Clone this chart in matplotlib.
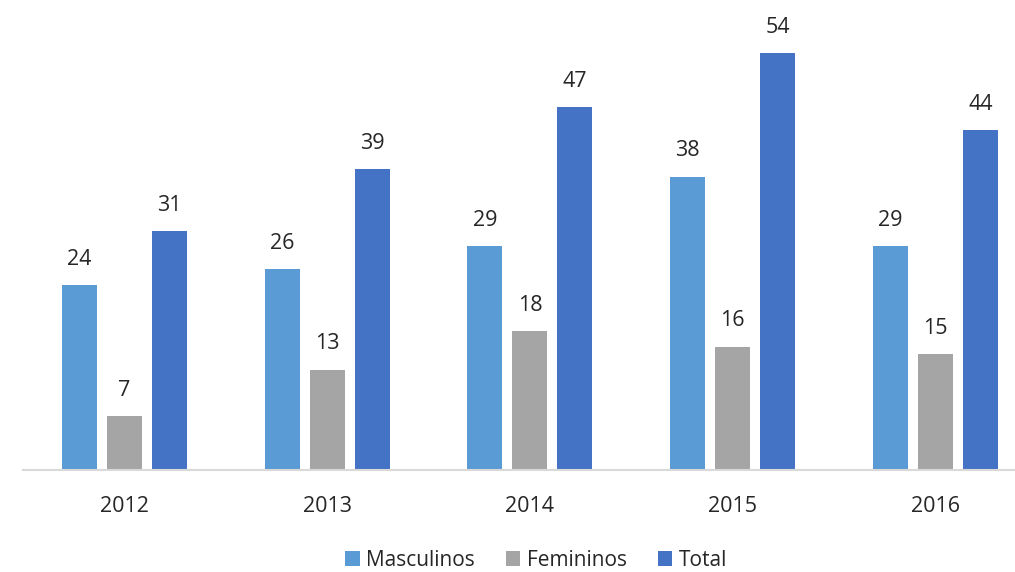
import matplotlib
matplotlib.use("Agg")
import matplotlib.pyplot as plt
import numpy as np

years = ["2012", "2013", "2014", "2015", "2016"]
masculinos = [24, 26, 29, 38, 29]
femininos = [7, 13, 18, 16, 15]
total = [31, 39, 47, 54, 44]

series = [
    ("Masculinos", masculinos, "#5B9BD5"),
    ("Femininos", femininos, "#A5A5A5"),
    ("Total", total, "#4472C4"),
]

plt.rcParams["font.family"] = ["Open Sans", "DejaVu Sans"]
text_color = "#262626"

W, H = 1015, 572
fig = plt.figure(figsize=(W / 100, H / 100), dpi=100)
ax = fig.add_axes([23 / W, 102 / H, (W - 23) / W, (H - 102 - 7) / H])

x = np.arange(len(years))
width = 0.1726
step = 0.222
for i, (name, vals, color) in enumerate(series):
    pos = x + (i - 1) * step
    bars = ax.bar(pos, vals, width=width, color=color, label=name, zorder=2)
    for b, v in zip(bars, vals):
        ax.annotate(str(v), (b.get_x() + b.get_width() / 2, v),
                    xytext=(0, 11), textcoords="offset points",
                    ha="center", va="bottom", fontsize=15.5, color=text_color)

ax.set_xlim(-0.5, (W - 23) / 202.75 - 0.5)
ax.set_ylim(0, 60)
ax.set_xticks(x)
ax.set_xticklabels(years, fontsize=15.5, color=text_color)
ax.tick_params(axis="x", length=0, pad=19)
ax.set_yticks([])
for s in ["top", "right", "left"]:
    ax.spines[s].set_visible(False)
ax.spines["bottom"].set_color("#D9D9D9")
ax.spines["bottom"].set_linewidth(1.5)

fig.legend(loc="center", bbox_to_anchor=(536 / W, 1 - 560 / H), ncol=3,
           frameon=False, fontsize=15, handlelength=0.7, handleheight=0.7,
           handletextpad=0.3, columnspacing=1.5, labelcolor=text_color,
           borderpad=0.2)

fig.savefig("out.png", dpi=100)
